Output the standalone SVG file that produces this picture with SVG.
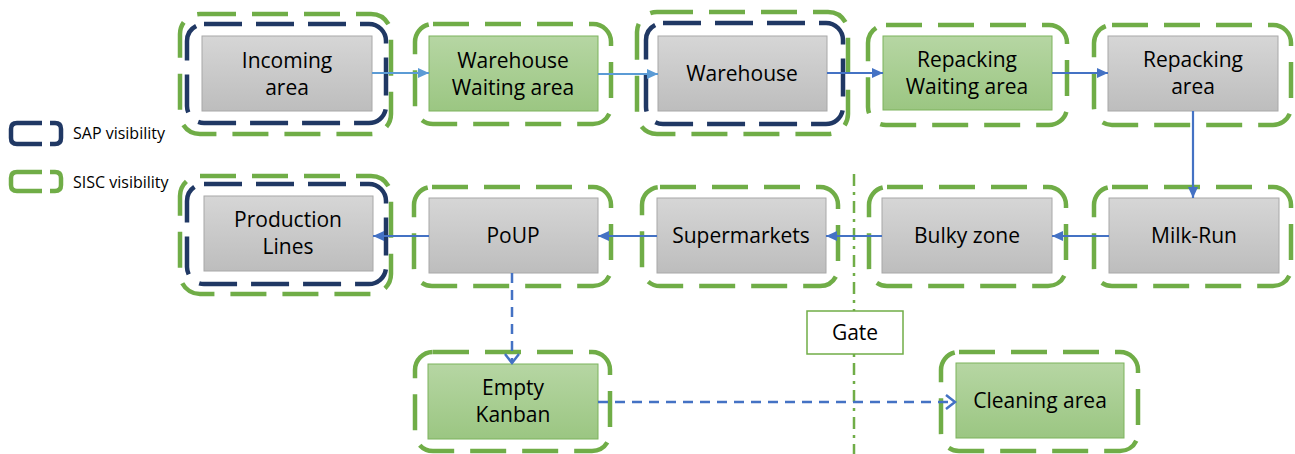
<svg xmlns="http://www.w3.org/2000/svg" width="1295" height="454" viewBox="0 0 1295 454">
<defs>
<linearGradient id="gGrey" x1="0" y1="0" x2="0" y2="1">
<stop offset="0" stop-color="#D6D6D6"/><stop offset="1" stop-color="#BDBDBD"/>
</linearGradient>
<linearGradient id="gGreen" x1="0" y1="0" x2="0" y2="1">
<stop offset="0" stop-color="#B6D6A3"/><stop offset="1" stop-color="#9BC682"/>
</linearGradient>
<marker id="aDark" markerUnits="userSpaceOnUse" markerWidth="12" markerHeight="12" refX="11" refY="6" orient="auto">
<path d="M0,1 L11,6 L0,11 Z" fill="#4472C4"/>
</marker>
<marker id="aLight" markerUnits="userSpaceOnUse" markerWidth="12" markerHeight="12" refX="11" refY="6" orient="auto">
<path d="M0,1 L11,6 L0,11 Z" fill="#5B9BD5"/>
</marker>
<marker id="aOpen" markerUnits="userSpaceOnUse" markerWidth="14" markerHeight="16" refX="10" refY="8" orient="auto">
<path d="M1,1 L10,8 L1,15" fill="none" stroke="#4472C4" stroke-width="2.5"/>
</marker>
</defs>
<style>
.grey{fill:url(#gGrey);stroke:#A8A8A8;stroke-width:1}
.green{fill:url(#gGreen);stroke:#7DB35C;stroke-width:1}
.gf{fill:none;stroke:#70AD47;stroke-width:4.5;stroke-dasharray:36 16}
.nf{fill:none;stroke:#203864;stroke-width:4.5;stroke-dasharray:38 14}
.t{font-family:"Open Sans","DejaVu Sans",sans-serif;font-size:21px;fill:#000;text-anchor:middle}
.lg{font-family:"Open Sans","DejaVu Sans",sans-serif;font-size:16px;fill:#000}
.sol{fill:none;stroke:#4472C4;stroke-width:2.2}
.solL{fill:none;stroke:#5B9BD5;stroke-width:2.2}
.dsh{fill:none;stroke:#4472C4;stroke-width:2.5;stroke-dasharray:10 7}
.gate{fill:none;stroke:#70AD47;stroke-width:2.5;stroke-dasharray:12 6 3 6}
</style>

<g id="legend">
<path d="M42,123 H17 Q11,123 11,129 V138 Q11,144 17,144 H42 M50,123 H55 Q61,123 61,129 V138 Q61,144 55,144 H50" fill="none" stroke="#203864" stroke-width="4.5"/>
<text class="lg" x="73" y="139">SAP visibility</text>
<path d="M42,172 H17 Q11,172 11,178 V185 Q11,191 17,191 H42 M50,172 H55 Q61,172 61,178 V185 Q61,191 55,191 H50" fill="none" stroke="#70AD47" stroke-width="4.5"/>
<text class="lg" x="73" y="188">SISC visibility</text>
</g>

<g id="incoming">
<rect class="gf" x="180" y="14" width="211" height="120" rx="20"/>
<rect class="nf" x="187" y="24" width="199" height="99" rx="17"/>
<rect class="grey" x="202" y="36" width="170" height="75"/>
<text class="t" x="287" y="68">Incoming</text>
<text class="t" x="287" y="95">area</text>
</g>

<g id="wh-waiting">
<rect class="gf" x="415" y="24" width="196" height="100" rx="18"/>
<rect class="green" x="429" y="36" width="169" height="75"/>
<text class="t" x="513" y="68">Warehouse</text>
<text class="t" x="513" y="95">Waiting area</text>
</g>

<g id="warehouse">
<rect class="gf" x="637" y="12" width="211" height="122" rx="20"/>
<rect class="nf" x="646" y="23" width="197" height="101" rx="17"/>
<rect class="grey" x="658" y="36" width="169" height="75"/>
<text class="t" x="742" y="81">Warehouse</text>
</g>

<g id="rp-waiting">
<rect class="gf" x="868" y="25" width="199" height="100" rx="18"/>
<rect class="green" x="883" y="36" width="169" height="74"/>
<text class="t" x="967" y="67">Repacking</text>
<text class="t" x="967" y="94">Waiting area</text>
</g>

<g id="repacking">
<rect class="gf" x="1094" y="25" width="197" height="100" rx="18"/>
<rect class="grey" x="1108" y="36" width="170" height="75"/>
<text class="t" x="1193" y="67">Repacking</text>
<text class="t" x="1193" y="94">area</text>
</g>

<g id="milkrun">
<rect class="gf" x="1094" y="187" width="197" height="99" rx="18"/>
<rect class="grey" x="1109" y="198" width="170" height="75"/>
<text class="t" x="1194" y="243">Milk-Run</text>
</g>

<g id="bulky">
<rect class="gf" x="869" y="187" width="197" height="99" rx="18"/>
<rect class="grey" x="882" y="198" width="170" height="75"/>
<text class="t" x="967" y="243">Bulky zone</text>
</g>

<g id="supermarkets">
<rect class="gf" x="642" y="187" width="196" height="99" rx="18"/>
<rect class="grey" x="657" y="198" width="169" height="75"/>
<text class="t" x="741" y="243">Supermarkets</text>
</g>

<g id="poup">
<rect class="gf" x="414" y="187" width="197" height="99" rx="18"/>
<rect class="grey" x="429" y="198" width="169" height="75"/>
<text class="t" x="513" y="243">PoUP</text>
</g>

<g id="production">
<rect class="gf" x="180" y="176" width="211" height="118" rx="20"/>
<rect class="nf" x="187" y="184" width="199" height="100" rx="17"/>
<rect class="grey" x="204" y="196" width="169" height="75"/>
<text class="t" x="288" y="227">Production</text>
<text class="t" x="288" y="254">Lines</text>
</g>

<g id="empty-kanban">
<rect class="gf" x="415" y="352" width="195" height="99" rx="18"/>
<rect class="green" x="428" y="364" width="170" height="75"/>
<text class="t" x="513" y="395">Empty</text>
<text class="t" x="513" y="422">Kanban</text>
</g>

<g id="cleaning">
<rect class="gf" x="941" y="352" width="197" height="99" rx="18"/>
<rect class="green" x="956" y="363" width="168" height="75"/>
<text class="t" x="1040" y="408">Cleaning area</text>
</g>

<g id="connectors">
<path class="gate" d="M854,174 V454"/>
<path class="solL" d="M372,73 H429" marker-end="url(#aLight)"/>
<path class="solL" d="M598,74 H658" marker-end="url(#aLight)"/>
<path class="sol" d="M827,73 H883" marker-end="url(#aDark)"/>
<path class="sol" d="M1052,73 H1108" marker-end="url(#aDark)"/>
<path class="sol" d="M1193,111 V198" marker-end="url(#aDark)"/>
<path class="sol" d="M1109,236 H1052" marker-end="url(#aDark)"/>
<path class="sol" d="M882,236 H826" marker-end="url(#aDark)"/>
<path class="sol" d="M657,236 H598" marker-end="url(#aDark)"/>
<path class="sol" d="M429,236 H373" marker-end="url(#aDark)"/>
<path class="dsh" d="M512,273 V363" marker-end="url(#aOpen)"/>
<path class="dsh" d="M598,402 H955" marker-end="url(#aOpen)"/>
</g>

<g id="gate">
<rect x="807" y="311" width="96" height="43" fill="#FFFFFF" stroke="#70AD47" stroke-width="1.5"/>
<text class="t" x="855" y="340">Gate</text>
</g>
</svg>
